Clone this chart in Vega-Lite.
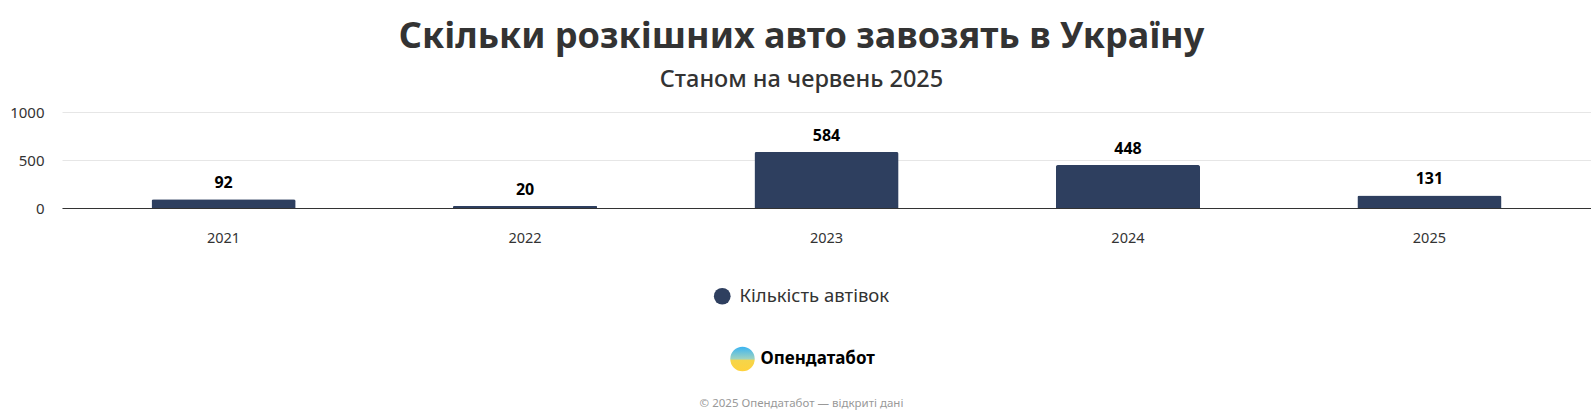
{
  "$schema": "https://vega.github.io/schema/vega-lite/v6.json",
  "autosize": {"type": "none"},
  "width": 1529,
  "height": 96,
  "padding": {"left": 62, "top": 112, "right": 0, "bottom": 211},
  "background": "#ffffff",
  "title": {
    "text": "Скільки розкішних авто завозять в Україну",
    "subtitle": "Станом на червень 2025",
    "anchor": "middle",
    "frame": "group",
    "dx": -25,
    "offset": 13,
    "font": "Noto Sans",
    "fontSize": 36,
    "fontWeight": "bold",
    "color": "#333333",
    "subtitleFont": "Noto Sans",
    "subtitleFontSize": 23.5,
    "subtitleFontWeight": 500,
    "subtitleColor": "#333333",
    "subtitlePadding": 12
  },
  "config": {
    "view": {"stroke": null},
    "font": "Noto Sans"
  },
  "layer": [
    {
      "data": {
        "values": [
          {"year": "2021", "value": 92, "series": "Кількість автівок"},
          {"year": "2022", "value": 20, "series": "Кількість автівок"},
          {"year": "2023", "value": 584, "series": "Кількість автівок"},
          {"year": "2024", "value": 448, "series": "Кількість автівок"},
          {"year": "2025", "value": 131, "series": "Кількість автівок"}
        ]
      },
      "encoding": {
        "x": {
          "field": "year",
          "type": "ordinal",
          "scale": {"paddingInner": 0.522, "paddingOuter": 0.297},
          "axis": {
            "title": null,
            "labelAngle": 0,
            "labelFont": "Noto Sans",
            "labelFontSize": 14.5,
            "labelColor": "#333333",
            "labelPadding": 23,
            "ticks": false,
            "domainColor": "#333333",
            "domainWidth": 1,
            "grid": false
          }
        },
        "y": {
          "field": "value",
          "type": "quantitative",
          "scale": {"domain": [0, 1000], "nice": false},
          "axis": {
            "title": null,
            "values": [0, 500, 1000],
            "format": "d",
            "labelFont": "Noto Sans",
            "labelFontSize": 15,
            "labelColor": "#333333",
            "labelPadding": 18,
            "ticks": false,
            "domain": false,
            "gridColor": "#e6e6e6",
            "gridWidth": 1
          }
        }
      },
      "layer": [
        {
          "mark": {"type": "bar", "cornerRadiusTopLeft": 2, "cornerRadiusTopRight": 2},
          "encoding": {
            "color": {
              "field": "series",
              "type": "nominal",
              "scale": {"range": ["#2e3f5f"]},
              "legend": {
                "title": null,
                "orient": "none",
                "legendX": 651,
                "legendY": 175,
                "symbolType": "circle",
                "symbolSize": 280,
                "symbolStrokeWidth": 0,
                "labelFont": "Noto Sans",
                "labelFontSize": 18.5,
                "labelColor": "#333333",
                "labelOffset": 8,
                "padding": 0
              }
            }
          }
        },
        {
          "mark": {
            "type": "text",
            "baseline": "bottom",
            "dy": -8,
            "font": "Noto Sans",
            "fontSize": 16,
            "fontWeight": "bold",
            "color": "#000000"
          },
          "encoding": {"text": {"field": "value", "type": "quantitative"}}
        }
      ]
    },
    {
      "data": {
        "values": [
          {"row": "logo", "label": "Опендатабот"},
          {"row": "copy", "label": "© 2025 Опендатабот — відкриті дані"}
        ]
      },
      "encoding": {
        "y": {
          "field": "row",
          "type": "nominal",
          "sort": ["logo", "copy"],
          "scale": {"type": "point", "range": [247, 292], "padding": 0},
          "axis": null
        }
      },
      "layer": [
        {
          "transform": [{"filter": "datum.row === 'logo'"}],
          "mark": {
            "type": "point",
            "shape": "circle",
            "filled": true,
            "size": 600,
            "xOffset": -84,
            "opacity": 1,
            "fill": {
              "gradient": "linear",
              "x1": 0, "y1": 0, "x2": 0, "y2": 1,
              "stops": [
                {"offset": 0, "color": "#3ab4f2"},
                {"offset": 0.5, "color": "#9fd3c0"},
                {"offset": 0.55, "color": "#f5d54a"},
                {"offset": 1, "color": "#ffd23c"}
              ]
            }
          }
        },
        {
          "transform": [{"filter": "datum.row === 'logo'"}],
          "mark": {
            "type": "text",
            "align": "left",
            "baseline": "middle",
            "dx": -66,
            "font": "Noto Sans",
            "fontSize": 17,
            "fontWeight": "bold",
            "color": "#000000"
          },
          "encoding": {"text": {"field": "label"}}
        },
        {
          "transform": [{"filter": "datum.row === 'copy'"}],
          "mark": {
            "type": "text",
            "align": "center",
            "baseline": "middle",
            "dx": -25,
            "font": "Noto Sans",
            "fontSize": 11.5,
            "color": "#999999"
          },
          "encoding": {"text": {"field": "label"}}
        }
      ]
    }
  ],
  "resolve": {"scale": {"y": "independent"}}
}
